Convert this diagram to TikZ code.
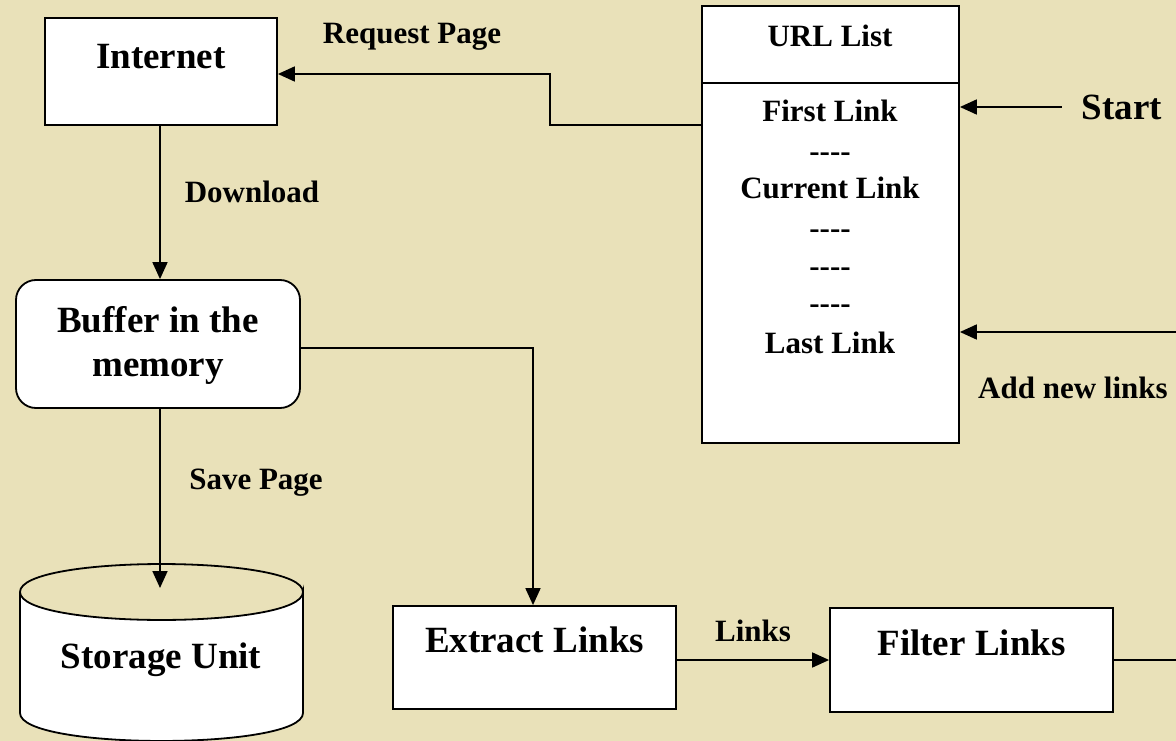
\documentclass[tikz,border=0pt]{standalone}
\usepackage{fontspec}
\setmainfont{Liberation Serif}
\usetikzlibrary{arrows.meta}
\definecolor{paper}{RGB}{233,225,185}
\tikzset{
  box/.style={draw, line width=1.8pt, fill=white, inner sep=0pt},
  big/.style={font=\fontsize{37}{44}\selectfont\bfseries, inner sep=0pt},
  small/.style={font=\fontsize{31}{37}\selectfont\bfseries, inner sep=0pt},
  conn/.style={line width=1.8pt},
  arr/.style={conn, -{Triangle[length=17pt,width=15pt]}},
}
\newcommand{\dashrow}{-{}-{}-{}-}
\begin{document}
\begin{tikzpicture}[x=1pt,y=-1pt]
\useasboundingbox (0,0) rectangle (1176,741);
\fill[paper] (0,0) rectangle (1176,741);
\clip (0,0) rectangle (1176,741);

% boxes
\node[box, minimum width=232pt, minimum height=107pt] (inet) at (161,71.5) {};
\node[big, anchor=base] (inettxt) at (161,69) {Internet};

\node[box, minimum width=257pt, minimum height=437pt] (url) at (830.5,224.5) {};
\draw[conn] (url.west |- 0,83) -- (url.east |- 0,83);
\node[small, anchor=base] (urlhead) at (830,47) {URL List};
\node[small, anchor=base] (l1) at (830,122) {First Link};
\node[small, anchor=base] (l2) at (830,161) {\dashrow};
\node[small, anchor=base] (l3) at (830,199) {Current Link};
\node[small, anchor=base] (l4) at (830,238) {\dashrow};
\node[small, anchor=base] (l5) at (830,276) {\dashrow};
\node[small, anchor=base] (l6) at (830,313) {\dashrow};
\node[small, anchor=base] (l7) at (830,353) {Last Link};

\node[box, rounded corners=20pt, minimum width=284pt, minimum height=128pt] (buf) at (158,344) {};
\node[big, anchor=base, align=center] (buftxt) at (158,376) {Buffer in the\\memory};

\node[box, minimum width=283pt, minimum height=103pt] (ext) at (534.5,657.5) {};
\node[big, anchor=base] (exttxt) at (534.5,652) {Extract Links};

\node[box, minimum width=283pt, minimum height=104pt] (filter) at (971.5,660) {};
\node[big, anchor=base] (filtertxt) at (971.5,655) {Filter Links};

% storage cylinder
\filldraw[conn, fill=white]
  (20,592) -- (20,713) .. controls (20,750.3) and (303,750.3) .. (303,713) -- (303,592)
  .. controls (303,629.3) and (20,629.3) .. (20,592);
\draw[conn] (20,592) .. controls (20,554.7) and (303,554.7) .. (303,592);
\coordinate (storetop) at (160,588);
\node[big, anchor=base] (store) at (161,668) {Storage Unit};

% start
\node[big, inner xsep=20pt] (start) at (1122,107) {Start};

% connectors
\draw[arr] (start) -- (url.east |- start);
\draw[arr] (url.west |- 0,125) -- ++(-151,0) |- (inet.east |- 0,74);
\draw[arr] (inet.south -| 160,0) -- (buf.north -| 160,0);
\draw[arr] (buf.south -| 160,0) -- (storetop);
\draw[arr] (buf.east |- 0,348) -| (ext.north -| 533,0);
\draw[arr] (ext.east |- 0,660) -- (filter.west |- 0,660);
\draw[arr] (filter.east) -- (1200,660) |- (url.east |- 0,332);

% connector labels
\node[small, anchor=base] (lreq) at (412,44) {Request Page};
\node[small, anchor=base] (ldown) at (252,202) {Download};
\node[small, anchor=base] (lsave) at (256,489) {Save Page};
\node[small, anchor=base] (llinks) at (753,641) {Links};
\node[small, anchor=base] (ladd) at (1073,398) {Add new links};
\end{tikzpicture}
\end{document}
